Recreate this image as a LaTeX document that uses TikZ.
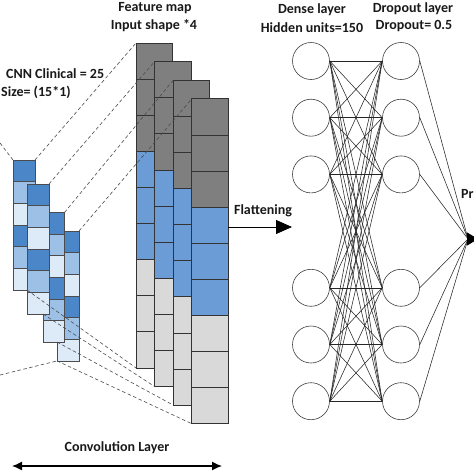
\documentclass[tikz,border=0pt]{standalone}
\usepackage{fontspec}
\setmainfont{Carlito}
\usetikzlibrary{arrows.meta}
\definecolor{bdark}{RGB}{74,134,200}
\definecolor{bmid}{RGB}{157,192,230}
\definecolor{blight}{RGB}{221,234,247}
\definecolor{gdark}{RGB}{127,127,127}
\definecolor{gblue}{RGB}{108,156,214}
\definecolor{glight}{RGB}{217,217,217}
\newcommand\smallcolumn[4]{%
  \foreach \c [count=\i from 0] in {bdark,bmid,blight,bdark,bmid,blight}{
    \path[cell,fill=\c] (#2,#3+\i*21.65) rectangle ++(#4,21.65);
  }
  \coordinate (#1tl) at (#2,#3);
  \coordinate (#1tr) at (#2+#4,#3);
  \coordinate (#1bl) at (#2,#3+129.9);
  \coordinate (#1br) at (#2+#4,#3+129.9);
}
\newcommand\bigcolumn[3]{%
  \foreach \c [count=\i from 0] in {gdark,gdark,gdark,gblue,gblue,gblue,glight,glight,glight}{
    \path[bcell,fill=\c] (#2,#3+\i*36.1) rectangle ++(36.4,36.1);
  }
  \coordinate (#1tl) at (#2,#3);
  \coordinate (#1tr) at (#2+36.4,#3);
  \coordinate (#1bl) at (#2,#3+324.9);
  \coordinate (#1br) at (#2+36.4,#3+324.9);
}
\begin{document}
\begin{tikzpicture}[x=1pt,y=-1pt,
  cell/.style={draw=black!70,line width=0.7pt},
  bcell/.style={draw=black!80,line width=0.8pt},
  lbl/.style={font=\fontsize{14}{16}\selectfont\bfseries,inner sep=0pt,text=black!90},
  neuron/.style={circle,draw=black!75,line width=0.6pt,minimum size=37pt,inner sep=0pt},
  conn/.style={draw=black!85,line width=0.55pt},
  dashline/.style={draw=black!70,line width=0.6pt,dash pattern=on 3.5pt off 2.5pt}]
\useasboundingbox (0,0) rectangle (474,474);
\fill[white] (0,0) rectangle (474,474);
% small columns (front-to-back order handled by drawing order)
\smallcolumn{sa}{13}{160}{22}
\smallcolumn{sd}{57}{231}{22}
\smallcolumn{sc}{43}{212.5}{21.5}
\smallcolumn{sb}{27}{184}{22}
% big columns
\bigcolumn{ba}{136}{43}
\bigcolumn{bb}{154.6}{61.6}
\bigcolumn{bc}{173.2}{80.2}
\bigcolumn{bd}{191.8}{98.8}
% dashed projection lines
\coordinate (inT) at (0,143);
\coordinate (inB) at (0,375);
\coordinate (q1) at (27,290);
\coordinate (q2) at (43,314);
\coordinate (q3) at (57,342);
\draw[dashline] (inT) -- (satl);
\draw[dashline] (inB) -- (sdbl);
\draw[dashline] (satr) -- (batl);
\draw[dashline] (sbtr) -- (bbtl);
\draw[dashline] (sctr) -- (bctl);
\draw[dashline] (sdtr) -- (bdtl);
\draw[dashline] (q1) -- (babl);
\draw[dashline] (q2) -- (bbbl);
\draw[dashline] (q3) -- (bcbl);
\draw[dashline] (sdbl) -- (bdbl);
% texts
\node[lbl,anchor=west] (cnn) at (6,74) {CNN Clinical = 25};
\node[lbl,anchor=west] (size) at (1,92) {Size= (15*1)};
\node[lbl] (fm) at (155,8) {Feature map};
\node[lbl] (ins) at (154,26) {Input shape *4};
\node[lbl] (dl) at (312,10) {Dense layer};
\node[lbl] (hu) at (312,28) {Hidden units=150};
\node[lbl] (dol) at (413,9) {Dropout layer};
\node[lbl] (dop) at (414,26) {Dropout= 0.5};
\node[lbl] (fl) at (263,211) {Flattening};
\node[lbl,anchor=west] (pr) at (461,194) {Pr};
\node[lbl] (conv) at (117,448) {Convolution Layer};
% flattening arrow
\coordinate (flS) at (228.2,227);
\coordinate (flE) at (292,227);
\draw[line width=0.8pt,-{Triangle[length=16pt,width=14pt]}] (flS) -- (flE);
% convolution double arrow
\coordinate (cvL) at (12,466);
\coordinate (cvR) at (222,466);
\draw[line width=1.3pt,{Latex[length=10pt,width=9pt]}-{Latex[length=10pt,width=9pt]}] (cvL) -- (cvR);
% neurons
\foreach \y [count=\k] in {61,117.7,174.4,287.8,344.5,401.2}{
  \node[neuron] (d\k) at (311,\y) {};
  \node[neuron] (p\k) at (401,\y) {};
}
\foreach \i in {1,...,6}{
  \foreach \j in {1,...,6}{
    \draw[conn] (d\i.east) -- (p\j.west);
  }
}
\coordinate (out) at (468,239);
\coordinate (outtip) at (478,239);
\foreach \j in {1,...,6}{
  \draw[conn] (p\j.east) -- (out);
}
\draw[line width=0.8pt,-{Triangle[length=11pt,width=13pt]}] (out) -- (outtip);
\end{tikzpicture}
\end{document}
